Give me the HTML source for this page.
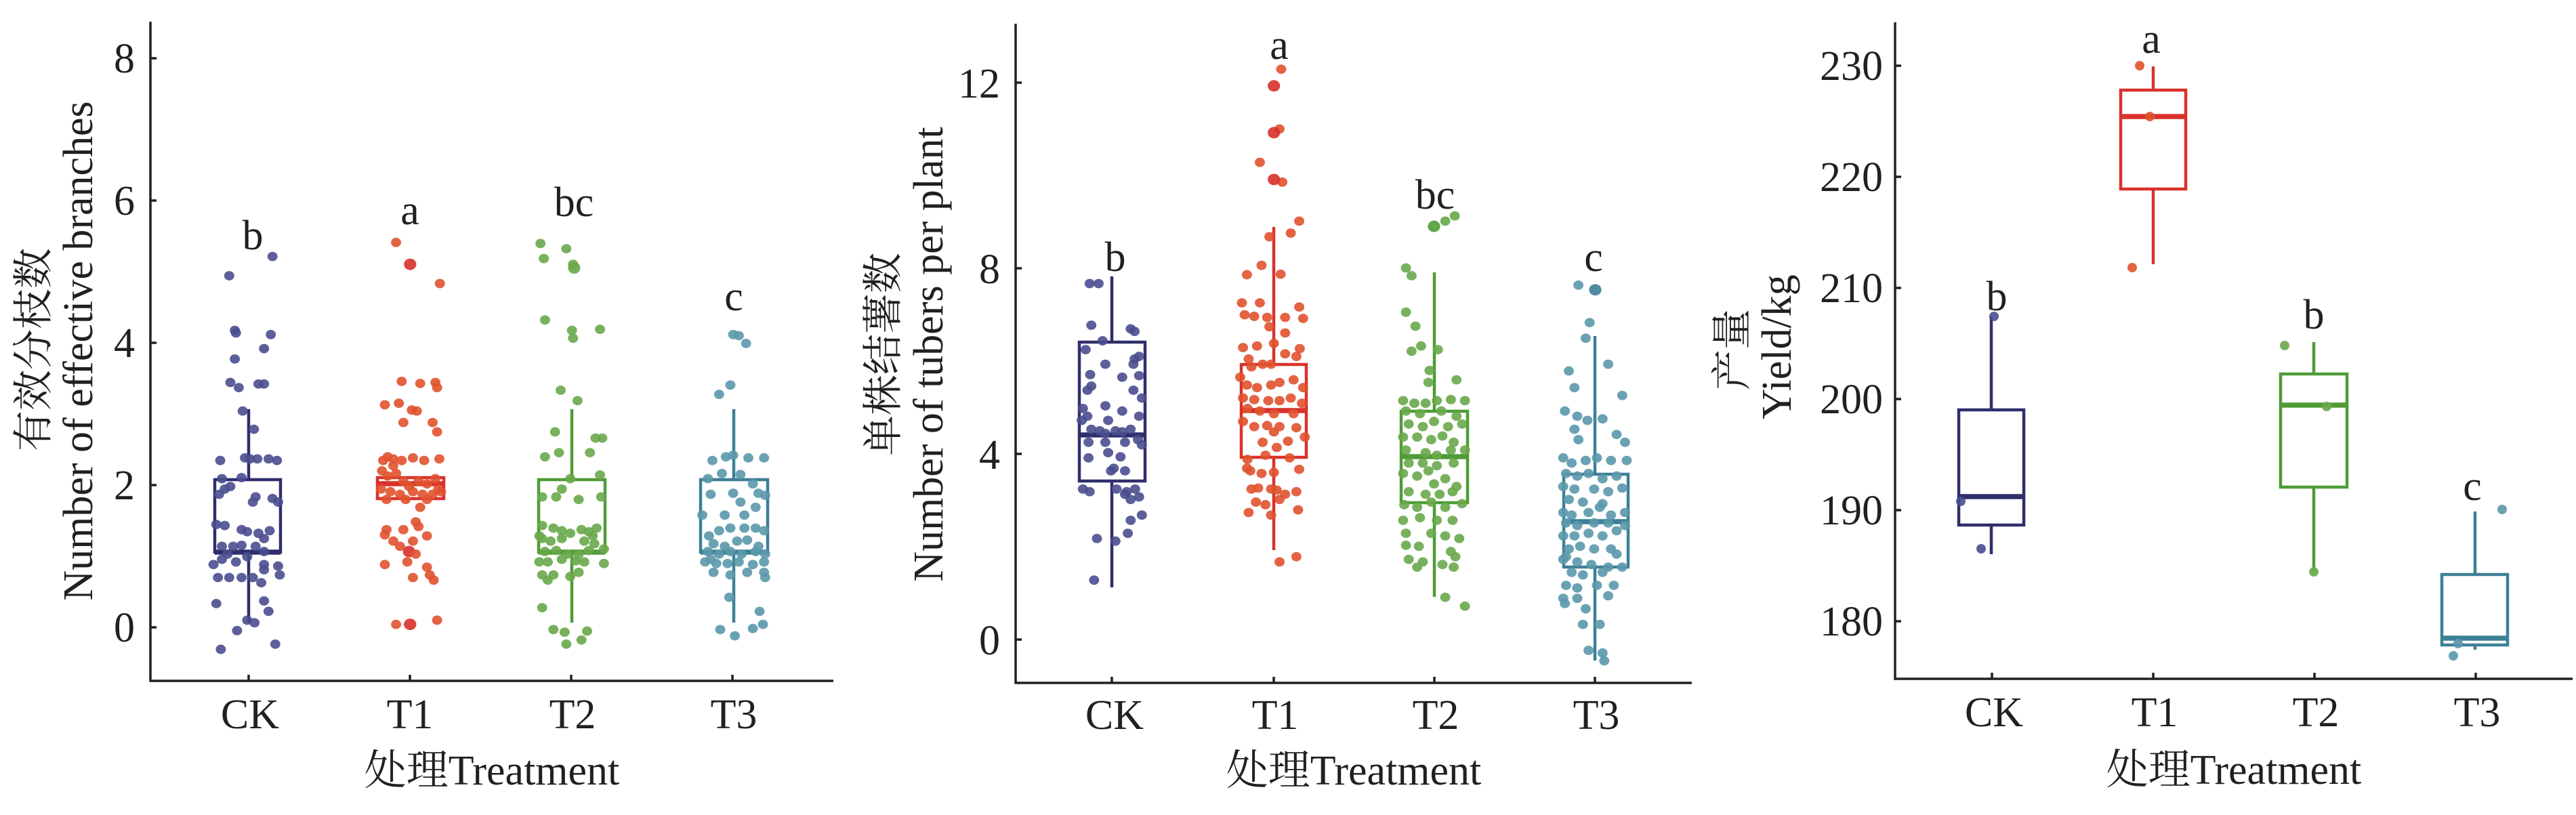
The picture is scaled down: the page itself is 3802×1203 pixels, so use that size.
<!DOCTYPE html>
<html><head><meta charset="utf-8"><style>
html,body{margin:0;padding:0;background:#fff;}
svg{display:block;}
text{font-family:"Liberation Serif","Noto Serif CJK SC",serif;fill:#231f20;}
.p circle{r:9px;}
.p circle[r="10"]{r:11px;}
.q circle{r:7px;}
</style></head><body>
<svg width="3802" height="1203" viewBox="0 0 3802 1203" xmlns="http://www.w3.org/2000/svg">
<rect width="3802" height="1203" fill="#fff"/>

<!-- ================= PANEL 1 ================= -->
<g stroke="#231f20" stroke-width="3.5" fill="none">
<path d="M222 32 V1005 H1230"/>
<path d="M222 86 h9 M222 296 h9 M222 506 h9 M222 716 h9 M222 926 h9"/>
<path d="M367 1005 v-9 M605 1005 v-9 M843 1005 v-9 M1081 1005 v-9"/>
</g>
<g font-size="62" text-anchor="end">
<text x="199" y="107">8</text><text x="199" y="317">6</text><text x="199" y="527">4</text><text x="199" y="737">2</text><text x="199" y="947">0</text>
</g>
<g font-size="62" text-anchor="middle">
<text x="369" y="1075">CK</text><text x="605" y="1075">T1</text><text x="845" y="1075">T2</text><text x="1083" y="1075">T3</text>
<text x="726" y="1158">处理Treatment</text>
<text transform="translate(70 516) rotate(-90)" font-size="60">有效分枝数</text>
<text transform="translate(136 518) rotate(-90)">Number of effective branches</text>
<text x="373" y="368">b</text><text x="605" y="331">a</text><text x="847" y="319">bc</text><text x="1083" y="458">c</text>
</g>
<g fill="none" stroke-width="4.5">
<g stroke="#2f2e6c"><path d="M367 604 V708 M367 815 V919"/><rect x="317" y="708" width="97" height="107"/><path d="M317 815 H414" stroke-width="7.5"/></g>
<g stroke="#d8322b"><rect x="557" y="705" width="98" height="31"/><path d="M557 714 H655" stroke-width="7.5"/></g>
<g stroke="#4f9c36"><path d="M844 604 V708 M844 815 V919"/><rect x="795" y="708" width="98" height="107"/><path d="M795 815 H893" stroke-width="7.5"/></g>
<g stroke="#3c8096"><path d="M1083 604 V708 M1083 815 V919"/><rect x="1034" y="708" width="99" height="107"/><path d="M1034 815 H1133" stroke-width="7.5"/></g>
</g>
<g class="p" transform="scale(0.8292 0.768)" fill-opacity="0.9">
<g fill="#4a4e8e">
<circle cx="485" cy="493" r="8"/><circle cx="408" cy="530" r="8"/><circle cx="418" cy="635" r="8"/><circle cx="420" cy="640" r="8"/><circle cx="482" cy="643" r="8"/><circle cx="470" cy="670" r="8"/><circle cx="418" cy="690" r="8"/><circle cx="410" cy="735" r="8"/><circle cx="425" cy="745" r="8"/><circle cx="460" cy="738" r="8"/><circle cx="470" cy="738" r="8"/><circle cx="432" cy="790" r="8"/><circle cx="452" cy="825" r="8"/><circle cx="392" cy="885" r="8"/><circle cx="436" cy="880" r="8"/><circle cx="445" cy="882" r="8"/><circle cx="458" cy="882" r="8"/><circle cx="478" cy="882" r="8"/><circle cx="493" cy="885" r="8"/><circle cx="430" cy="918" r="8"/><circle cx="400" cy="940" r="8"/><circle cx="390" cy="950" r="8"/><circle cx="410" cy="935" r="8"/><circle cx="455" cy="955" r="8"/><circle cx="485" cy="958" r="8"/><circle cx="450" cy="965" r="8"/><circle cx="385" cy="1008" r="8"/><circle cx="400" cy="1010" r="8"/><circle cx="430" cy="1018" r="8"/><circle cx="440" cy="1022" r="8"/><circle cx="460" cy="1025" r="8"/><circle cx="470" cy="1035" r="8"/><circle cx="395" cy="1050" r="8"/><circle cx="405" cy="1065" r="8"/><circle cx="430" cy="1048" r="8"/><circle cx="455" cy="1050" r="8"/><circle cx="470" cy="1060" r="8"/><circle cx="395" cy="1075" r="8"/><circle cx="420" cy="1080" r="8"/><circle cx="440" cy="1070" r="8"/><circle cx="470" cy="1085" r="8"/><circle cx="495" cy="1088" r="8"/><circle cx="388" cy="1110" r="8"/><circle cx="408" cy="1110" r="8"/><circle cx="430" cy="1110" r="8"/><circle cx="470" cy="1095" r="8"/><circle cx="498" cy="1105" r="8"/><circle cx="385" cy="1160" r="8"/><circle cx="470" cy="1155" r="8"/><circle cx="478" cy="1175" r="8"/><circle cx="440" cy="1192" r="8"/><circle cx="453" cy="1197" r="8"/><circle cx="422" cy="1212" r="8"/><circle cx="490" cy="1238" r="8"/><circle cx="393" cy="1248" r="8"/><circle cx="415" cy="1050" r="8"/><circle cx="480" cy="1020" r="8"/><circle cx="395" cy="920" r="8"/><circle cx="495" cy="965" r="8"/><circle cx="380" cy="1085" r="8"/><circle cx="450" cy="1110" r="8"/><circle cx="465" cy="1120" r="8"/>
</g>
<g fill="#e0522f">
<circle cx="705" cy="466" r="8"/><circle cx="730" cy="508" r="10" fill="#d8302a"/><circle cx="783" cy="545" r="8"/><circle cx="715" cy="733" r="8"/><circle cx="748" cy="737" r="8"/><circle cx="775" cy="735" r="8"/><circle cx="778" cy="745" r="8"/><circle cx="685" cy="778" r="8"/><circle cx="710" cy="775" r="8"/><circle cx="733" cy="788" r="8"/><circle cx="742" cy="790" r="8"/><circle cx="718" cy="812" r="8"/><circle cx="770" cy="812" r="8"/><circle cx="778" cy="830" r="8"/><circle cx="690" cy="878" r="8"/><circle cx="682" cy="885" r="8"/><circle cx="700" cy="882" r="8"/><circle cx="715" cy="885" r="8"/><circle cx="735" cy="880" r="8"/><circle cx="755" cy="885" r="8"/><circle cx="782" cy="882" r="8"/><circle cx="680" cy="905" r="8"/><circle cx="690" cy="915" r="8"/><circle cx="705" cy="910" r="8"/><circle cx="718" cy="925" r="8"/><circle cx="728" cy="935" r="8"/><circle cx="745" cy="925" r="8"/><circle cx="760" cy="930" r="8"/><circle cx="775" cy="920" r="8"/><circle cx="780" cy="940" r="8"/><circle cx="695" cy="945" r="8"/><circle cx="712" cy="950" r="8"/><circle cx="735" cy="945" r="8"/><circle cx="752" cy="950" r="8"/><circle cx="770" cy="950" r="8"/><circle cx="785" cy="945" r="8"/><circle cx="678" cy="940" r="8"/><circle cx="748" cy="975" r="8"/><circle cx="740" cy="1003" r="8"/><circle cx="688" cy="1018" r="8"/><circle cx="718" cy="1018" r="8"/><circle cx="745" cy="1012" r="8"/><circle cx="760" cy="1030" r="8"/><circle cx="700" cy="1040" r="8"/><circle cx="735" cy="1040" r="8"/><circle cx="728" cy="1060" r="10" fill="#d8302a"/><circle cx="740" cy="1065" r="8"/><circle cx="685" cy="1085" r="8"/><circle cx="725" cy="1080" r="8"/><circle cx="760" cy="1090" r="8"/><circle cx="765" cy="1105" r="8"/><circle cx="735" cy="1110" r="8"/><circle cx="772" cy="1115" r="8"/><circle cx="705" cy="1200" r="8"/><circle cx="730" cy="1200" r="10" fill="#d8302a"/><circle cx="778" cy="1192" r="8"/><circle cx="700" cy="895" r="8"/><circle cx="722" cy="960" r="8"/><circle cx="688" cy="960" r="8"/><circle cx="760" cy="960" r="8"/><circle cx="712" cy="1050" r="8"/><circle cx="685" cy="1028" r="8"/>
</g>
<g fill="#69a94b">
<circle cx="962" cy="468" r="8"/><circle cx="1008" cy="478" r="8"/><circle cx="968" cy="497" r="8"/><circle cx="1020" cy="508" r="8"/><circle cx="1022" cy="515" r="10"/><circle cx="970" cy="615" r="8"/><circle cx="1018" cy="635" r="8"/><circle cx="1068" cy="633" r="8"/><circle cx="1020" cy="650" r="8"/><circle cx="998" cy="750" r="8"/><circle cx="1028" cy="770" r="8"/><circle cx="988" cy="830" r="8"/><circle cx="1060" cy="842" r="8"/><circle cx="1072" cy="842" r="8"/><circle cx="970" cy="878" r="8"/><circle cx="995" cy="870" r="8"/><circle cx="1050" cy="870" r="8"/><circle cx="1068" cy="913" r="8"/><circle cx="1000" cy="940" r="8"/><circle cx="965" cy="955" r="8"/><circle cx="990" cy="955" r="8"/><circle cx="1015" cy="920" r="8"/><circle cx="1030" cy="960" r="8"/><circle cx="1070" cy="955" r="8"/><circle cx="965" cy="1010" r="8"/><circle cx="985" cy="1015" r="8"/><circle cx="1000" cy="1020" r="8"/><circle cx="1015" cy="1025" r="8"/><circle cx="1035" cy="1018" r="8"/><circle cx="1048" cy="1022" r="8"/><circle cx="1062" cy="1015" r="8"/><circle cx="965" cy="1035" r="8"/><circle cx="980" cy="1040" r="8"/><circle cx="1000" cy="1035" r="8"/><circle cx="1040" cy="1040" r="8"/><circle cx="1058" cy="1045" r="8"/><circle cx="970" cy="1060" r="8"/><circle cx="990" cy="1058" r="8"/><circle cx="1010" cy="1065" r="8"/><circle cx="1030" cy="1065" r="8"/><circle cx="1048" cy="1058" r="8"/><circle cx="1075" cy="1055" r="8"/><circle cx="960" cy="1080" r="8"/><circle cx="975" cy="1080" r="8"/><circle cx="1000" cy="1075" r="8"/><circle cx="1025" cy="1078" r="8"/><circle cx="1040" cy="1080" r="8"/><circle cx="1075" cy="1083" r="8"/><circle cx="965" cy="1105" r="8"/><circle cx="985" cy="1105" r="8"/><circle cx="1015" cy="1108" r="8"/><circle cx="1030" cy="1100" r="8"/><circle cx="975" cy="1115" r="8"/><circle cx="965" cy="1168" r="8"/><circle cx="985" cy="1210" r="8"/><circle cx="1005" cy="1215" r="8"/><circle cx="1045" cy="1213" r="8"/><circle cx="1035" cy="1230" r="8"/><circle cx="1008" cy="1238" r="8"/><circle cx="960" cy="1030" r="8"/><circle cx="1055" cy="1030" r="8"/>
</g>
<g fill="#5b98ab">
<circle cx="1305" cy="643" r="8"/><circle cx="1315" cy="645" r="8"/><circle cx="1328" cy="660" r="8"/><circle cx="1300" cy="740" r="8"/><circle cx="1280" cy="758" r="8"/><circle cx="1268" cy="885" r="8"/><circle cx="1292" cy="878" r="8"/><circle cx="1305" cy="875" r="8"/><circle cx="1332" cy="880" r="8"/><circle cx="1360" cy="880" r="8"/><circle cx="1260" cy="920" r="8"/><circle cx="1285" cy="910" r="8"/><circle cx="1318" cy="912" r="8"/><circle cx="1340" cy="930" r="8"/><circle cx="1265" cy="950" r="8"/><circle cx="1305" cy="948" r="8"/><circle cx="1350" cy="948" r="8"/><circle cx="1362" cy="952" r="8"/><circle cx="1318" cy="965" r="8"/><circle cx="1345" cy="975" r="8"/><circle cx="1262" cy="1030" r="8"/><circle cx="1280" cy="1020" r="8"/><circle cx="1300" cy="1015" r="8"/><circle cx="1325" cy="1015" r="8"/><circle cx="1345" cy="1015" r="8"/><circle cx="1360" cy="1020" r="8"/><circle cx="1270" cy="1045" r="8"/><circle cx="1290" cy="1050" r="8"/><circle cx="1312" cy="1040" r="8"/><circle cx="1330" cy="1038" r="8"/><circle cx="1350" cy="1050" r="8"/><circle cx="1260" cy="1060" r="8"/><circle cx="1280" cy="1065" r="8"/><circle cx="1300" cy="1060" r="8"/><circle cx="1320" cy="1065" r="8"/><circle cx="1345" cy="1060" r="8"/><circle cx="1362" cy="1065" r="8"/><circle cx="1255" cy="1080" r="8"/><circle cx="1275" cy="1083" r="8"/><circle cx="1295" cy="1083" r="8"/><circle cx="1315" cy="1080" r="8"/><circle cx="1340" cy="1085" r="8"/><circle cx="1360" cy="1080" r="8"/><circle cx="1270" cy="1100" r="8"/><circle cx="1300" cy="1105" r="8"/><circle cx="1330" cy="1100" r="8"/><circle cx="1360" cy="1100" r="8"/><circle cx="1265" cy="1075" r="8"/><circle cx="1362" cy="1110" r="8"/><circle cx="1298" cy="1148" r="8"/><circle cx="1352" cy="1175" r="8"/><circle cx="1282" cy="1210" r="8"/><circle cx="1308" cy="1222" r="8"/><circle cx="1340" cy="1208" r="8"/><circle cx="1358" cy="1200" r="8"/><circle cx="1250" cy="990" r="8"/><circle cx="1290" cy="990" r="8"/><circle cx="1325" cy="990" r="8"/>
</g>
</g>

<!-- ================= PANEL 2 ================= -->
<g stroke="#231f20" stroke-width="3.5" fill="none">
<path d="M1499 35 V1008 H2497"/>
<path d="M1499 122 h9 M1499 396 h9 M1499 670 h9 M1499 944 h9"/>
<path d="M1641 1008 v-9 M1880 1008 v-9 M2117 1008 v-9 M2354 1008 v-9"/>
</g>
<g font-size="62" text-anchor="end">
<text x="1476" y="144">12</text><text x="1476" y="418">8</text><text x="1476" y="692">4</text><text x="1476" y="966">0</text>
</g>
<g font-size="62" text-anchor="middle">
<text x="1645" y="1076">CK</text><text x="1882" y="1076">T1</text><text x="2119" y="1076">T2</text><text x="2356" y="1076">T3</text>
<text x="1998" y="1158">处理Treatment</text>
<text transform="translate(1324 523) rotate(-90)" font-size="60">单株结薯数</text>
<text transform="translate(1391 523) rotate(-90)">Number of tubers per plant</text>
<text x="1646" y="400">b</text><text x="1888" y="87">a</text><text x="2118" y="308">bc</text><text x="2352" y="400">c</text>
</g>
<g fill="none" stroke-width="4.5">
<g stroke="#2f2e6c"><path d="M1641 408 V505 M1641 710 V867"/><rect x="1593" y="505" width="97" height="205"/><path d="M1593 642 H1690" stroke-width="7.5"/></g>
<g stroke="#d8322b"><path d="M1880 335 V538 M1880 675 V812"/><rect x="1832" y="538" width="96" height="137"/><path d="M1832 606 H1928" stroke-width="7.5"/></g>
<g stroke="#4f9c36"><path d="M2117 402 V607 M2117 742 V881"/><rect x="2068" y="607" width="98" height="135"/><path d="M2068 674 H2166" stroke-width="7.5"/></g>
<g stroke="#3c8096"><path d="M2354 496 V700 M2354 837 V975"/><rect x="2308" y="700" width="95" height="137"/><path d="M2308 770 H2403" stroke-width="7.5"/></g>
</g>
<g class="p" transform="translate(1250 0) scale(0.8292 0.768)" fill-opacity="0.9">
<g fill="#4a4e8e">
<circle cx="432" cy="545" r="8"/><circle cx="448" cy="545" r="8"/><circle cx="435" cy="625" r="8"/><circle cx="505" cy="632" r="8"/><circle cx="512" cy="637" r="8"/><circle cx="455" cy="655" r="8"/><circle cx="425" cy="672" r="8"/><circle cx="520" cy="685" r="8"/><circle cx="512" cy="690" r="8"/><circle cx="510" cy="700" r="8"/><circle cx="460" cy="700" r="8"/><circle cx="433" cy="720" r="8"/><circle cx="435" cy="742" r="8"/><circle cx="428" cy="750" r="8"/><circle cx="490" cy="725" r="8"/><circle cx="520" cy="722" r="8"/><circle cx="510" cy="750" r="8"/><circle cx="525" cy="765" r="8"/><circle cx="420" cy="785" r="8"/><circle cx="460" cy="780" r="8"/><circle cx="490" cy="790" r="8"/><circle cx="428" cy="800" r="8"/><circle cx="465" cy="808" r="8"/><circle cx="520" cy="800" r="8"/><circle cx="435" cy="825" r="8"/><circle cx="450" cy="828" r="8"/><circle cx="460" cy="833" r="8"/><circle cx="478" cy="828" r="8"/><circle cx="490" cy="830" r="8"/><circle cx="505" cy="825" r="8"/><circle cx="430" cy="850" r="8"/><circle cx="460" cy="850" r="8"/><circle cx="495" cy="850" r="8"/><circle cx="518" cy="845" r="8"/><circle cx="465" cy="870" r="8"/><circle cx="487" cy="878" r="8"/><circle cx="430" cy="880" r="8"/><circle cx="475" cy="900" r="8"/><circle cx="495" cy="905" r="8"/><circle cx="470" cy="905" r="8"/><circle cx="420" cy="940" r="8"/><circle cx="432" cy="945" r="8"/><circle cx="480" cy="940" r="8"/><circle cx="498" cy="945" r="8"/><circle cx="513" cy="940" r="8"/><circle cx="520" cy="955" r="8"/><circle cx="495" cy="950" r="8"/><circle cx="505" cy="960" r="8"/><circle cx="525" cy="990" r="8"/><circle cx="505" cy="1000" r="8"/><circle cx="500" cy="1025" r="8"/><circle cx="445" cy="1035" r="8"/><circle cx="478" cy="1040" r="8"/><circle cx="440" cy="1115" r="8"/><circle cx="525" cy="855" r="8"/><circle cx="418" cy="808" r="8"/>
</g>
<g fill="#e0522f">
<circle cx="773" cy="133" r="8"/><circle cx="760" cy="165" r="10" fill="#d8302a"/><circle cx="770" cy="248" r="8"/><circle cx="760" cy="255" r="10" fill="#d8302a"/><circle cx="735" cy="312" r="8"/><circle cx="775" cy="350" r="8"/><circle cx="760" cy="345" r="10" fill="#d8302a"/><circle cx="805" cy="425" r="8"/><circle cx="790" cy="448" r="8"/><circle cx="752" cy="455" r="8"/><circle cx="738" cy="510" r="8"/><circle cx="712" cy="528" r="8"/><circle cx="772" cy="527" r="8"/><circle cx="703" cy="582" r="8"/><circle cx="735" cy="582" r="8"/><circle cx="805" cy="590" r="8"/><circle cx="812" cy="612" r="8"/><circle cx="708" cy="605" r="8"/><circle cx="725" cy="608" r="8"/><circle cx="748" cy="610" r="8"/><circle cx="780" cy="610" r="8"/><circle cx="752" cy="628" r="8"/><circle cx="780" cy="640" r="8"/><circle cx="705" cy="668" r="8"/><circle cx="730" cy="665" r="8"/><circle cx="760" cy="660" r="8"/><circle cx="780" cy="680" r="8"/><circle cx="800" cy="685" r="8"/><circle cx="806" cy="670" r="8"/><circle cx="715" cy="690" r="8"/><circle cx="740" cy="700" r="8"/><circle cx="720" cy="705" r="8"/><circle cx="755" cy="700" r="8"/><circle cx="700" cy="725" r="8"/><circle cx="712" cy="740" r="8"/><circle cx="730" cy="745" r="8"/><circle cx="755" cy="740" r="8"/><circle cx="770" cy="735" r="8"/><circle cx="795" cy="730" r="8"/><circle cx="812" cy="745" r="8"/><circle cx="705" cy="765" r="8"/><circle cx="725" cy="768" r="8"/><circle cx="750" cy="770" r="8"/><circle cx="770" cy="770" r="8"/><circle cx="790" cy="765" r="8"/><circle cx="810" cy="775" r="8"/><circle cx="713" cy="785" r="8"/><circle cx="735" cy="790" r="8"/><circle cx="760" cy="795" r="8"/><circle cx="795" cy="795" r="8"/><circle cx="705" cy="810" r="8"/><circle cx="725" cy="820" r="8"/><circle cx="748" cy="818" r="8"/><circle cx="770" cy="820" r="8"/><circle cx="800" cy="822" r="8"/><circle cx="760" cy="830" r="8"/><circle cx="815" cy="840" r="8"/><circle cx="740" cy="850" r="8"/><circle cx="765" cy="860" r="8"/><circle cx="785" cy="848" r="8"/><circle cx="712" cy="900" r="8"/><circle cx="718" cy="905" r="8"/><circle cx="738" cy="910" r="8"/><circle cx="760" cy="908" r="8"/><circle cx="805" cy="902" r="8"/><circle cx="720" cy="940" r="8"/><circle cx="732" cy="938" r="8"/><circle cx="755" cy="940" r="8"/><circle cx="765" cy="942" r="8"/><circle cx="800" cy="945" r="8"/><circle cx="780" cy="950" r="8"/><circle cx="728" cy="965" r="8"/><circle cx="745" cy="970" r="8"/><circle cx="770" cy="960" r="8"/><circle cx="803" cy="980" r="8"/><circle cx="715" cy="985" r="8"/><circle cx="755" cy="990" r="8"/><circle cx="800" cy="1070" r="8"/><circle cx="770" cy="1080" r="8"/><circle cx="713" cy="883" r="8"/><circle cx="788" cy="880" r="8"/><circle cx="745" cy="875" r="8"/>
</g>
<g fill="#69a94b">
<circle cx="995" cy="515" r="8"/><circle cx="1005" cy="530" r="8"/><circle cx="1045" cy="435" r="10" fill="#4f9c36"/><circle cx="1065" cy="425" r="8"/><circle cx="1082" cy="415" r="8"/><circle cx="995" cy="600" r="8"/><circle cx="1012" cy="627" r="8"/><circle cx="1022" cy="665" r="8"/><circle cx="1005" cy="675" r="8"/><circle cx="1052" cy="672" r="8"/><circle cx="1037" cy="712" r="8"/><circle cx="1035" cy="735" r="8"/><circle cx="1085" cy="730" r="8"/><circle cx="990" cy="770" r="8"/><circle cx="1010" cy="775" r="8"/><circle cx="1030" cy="775" r="8"/><circle cx="1050" cy="770" r="8"/><circle cx="1075" cy="768" r="8"/><circle cx="1100" cy="770" r="8"/><circle cx="995" cy="790" r="8"/><circle cx="1020" cy="795" r="8"/><circle cx="1058" cy="790" r="8"/><circle cx="1085" cy="800" r="8"/><circle cx="1000" cy="815" r="8"/><circle cx="1025" cy="820" r="8"/><circle cx="1045" cy="810" r="8"/><circle cx="1070" cy="820" r="8"/><circle cx="1095" cy="815" r="8"/><circle cx="990" cy="840" r="8"/><circle cx="1015" cy="840" r="8"/><circle cx="1040" cy="845" r="8"/><circle cx="1060" cy="838" r="8"/><circle cx="1080" cy="850" r="8"/><circle cx="995" cy="865" r="8"/><circle cx="1030" cy="870" r="8"/><circle cx="1050" cy="875" r="8"/><circle cx="1075" cy="865" r="8"/><circle cx="1100" cy="865" r="8"/><circle cx="1000" cy="890" r="8"/><circle cx="1025" cy="890" r="8"/><circle cx="1050" cy="895" r="8"/><circle cx="1080" cy="890" r="8"/><circle cx="990" cy="910" r="8"/><circle cx="1015" cy="915" r="8"/><circle cx="1035" cy="905" r="8"/><circle cx="1065" cy="920" r="8"/><circle cx="1085" cy="935" r="8"/><circle cx="1000" cy="945" r="8"/><circle cx="1030" cy="950" r="8"/><circle cx="1055" cy="950" r="8"/><circle cx="1078" cy="945" r="8"/><circle cx="992" cy="970" r="8"/><circle cx="1015" cy="975" r="8"/><circle cx="1040" cy="965" r="8"/><circle cx="1065" cy="975" r="8"/><circle cx="1095" cy="968" r="8"/><circle cx="990" cy="1000" r="8"/><circle cx="1020" cy="995" r="8"/><circle cx="1050" cy="1000" r="8"/><circle cx="1078" cy="1000" r="8"/><circle cx="995" cy="1025" r="8"/><circle cx="1040" cy="1025" r="8"/><circle cx="1065" cy="1030" r="8"/><circle cx="1090" cy="1035" r="8"/><circle cx="995" cy="1048" r="8"/><circle cx="1018" cy="1050" r="8"/><circle cx="1075" cy="1060" r="8"/><circle cx="1083" cy="1070" r="8"/><circle cx="1000" cy="1075" r="8"/><circle cx="1025" cy="1080" r="8"/><circle cx="1060" cy="1085" r="8"/><circle cx="1080" cy="1090" r="8"/><circle cx="1015" cy="1090" r="8"/><circle cx="1065" cy="1148" r="8"/><circle cx="1100" cy="1165" r="8"/><circle cx="1045" cy="930" r="8"/>
</g>
<g fill="#5b98ab">
<circle cx="1302" cy="548" r="8"/><circle cx="1332" cy="557" r="10" fill="#3c8096"/><circle cx="1322" cy="620" r="8"/><circle cx="1315" cy="650" r="8"/><circle cx="1285" cy="713" r="8"/><circle cx="1295" cy="745" r="8"/><circle cx="1355" cy="700" r="8"/><circle cx="1380" cy="760" r="8"/><circle cx="1278" cy="790" r="8"/><circle cx="1300" cy="800" r="8"/><circle cx="1318" cy="808" r="8"/><circle cx="1345" cy="805" r="8"/><circle cx="1295" cy="825" r="8"/><circle cx="1370" cy="835" r="8"/><circle cx="1385" cy="850" r="8"/><circle cx="1302" cy="845" r="8"/><circle cx="1275" cy="880" r="8"/><circle cx="1290" cy="890" r="8"/><circle cx="1315" cy="885" r="8"/><circle cx="1335" cy="880" r="8"/><circle cx="1360" cy="885" r="8"/><circle cx="1388" cy="885" r="8"/><circle cx="1280" cy="910" r="8"/><circle cx="1300" cy="915" r="8"/><circle cx="1320" cy="910" r="8"/><circle cx="1345" cy="920" r="8"/><circle cx="1370" cy="915" r="8"/><circle cx="1275" cy="935" r="8"/><circle cx="1295" cy="940" r="8"/><circle cx="1330" cy="940" r="8"/><circle cx="1355" cy="945" r="8"/><circle cx="1380" cy="938" r="8"/><circle cx="1285" cy="960" r="8"/><circle cx="1310" cy="965" r="8"/><circle cx="1345" cy="968" r="8"/><circle cx="1275" cy="985" r="8"/><circle cx="1290" cy="990" r="8"/><circle cx="1320" cy="985" r="8"/><circle cx="1340" cy="975" r="8"/><circle cx="1360" cy="990" r="8"/><circle cx="1385" cy="985" r="8"/><circle cx="1280" cy="1005" r="8"/><circle cx="1300" cy="1010" r="8"/><circle cx="1330" cy="1005" r="8"/><circle cx="1355" cy="1005" r="8"/><circle cx="1385" cy="1010" r="8"/><circle cx="1275" cy="1030" r="8"/><circle cx="1295" cy="1030" r="8"/><circle cx="1320" cy="1025" r="8"/><circle cx="1345" cy="1030" r="8"/><circle cx="1370" cy="1020" r="8"/><circle cx="1285" cy="1055" r="8"/><circle cx="1305" cy="1050" r="8"/><circle cx="1330" cy="1055" r="8"/><circle cx="1360" cy="1055" r="8"/><circle cx="1275" cy="1075" r="8"/><circle cx="1300" cy="1080" r="8"/><circle cx="1325" cy="1085" r="8"/><circle cx="1355" cy="1090" r="8"/><circle cx="1380" cy="1090" r="8"/><circle cx="1290" cy="1100" r="8"/><circle cx="1310" cy="1105" r="8"/><circle cx="1345" cy="1100" r="8"/><circle cx="1280" cy="1125" r="8"/><circle cx="1300" cy="1130" r="8"/><circle cx="1335" cy="1125" r="8"/><circle cx="1365" cy="1125" r="8"/><circle cx="1275" cy="1150" r="8"/><circle cx="1300" cy="1150" r="8"/><circle cx="1355" cy="1145" r="8"/><circle cx="1278" cy="1160" r="8"/><circle cx="1315" cy="1170" r="8"/><circle cx="1310" cy="1200" r="8"/><circle cx="1340" cy="1200" r="8"/><circle cx="1320" cy="1250" r="8"/><circle cx="1345" cy="1255" r="8"/><circle cx="1348" cy="1270" r="8"/><circle cx="1280" cy="1070" r="8"/><circle cx="1370" cy="1065" r="8"/>
</g>
</g>

<!-- ================= PANEL 3 ================= -->
<g stroke="#231f20" stroke-width="3.5" fill="none">
<path d="M2797 33 V1002 H3797"/>
<path d="M2797 97 h9 M2797 261 h9 M2797 425 h9 M2797 589 h9 M2797 753 h9 M2797 917 h9"/>
<path d="M2940 1002 v-9 M3178 1002 v-9 M3416 1002 v-9 M3654 1002 v-9"/>
</g>
<g font-size="62" text-anchor="end">
<text x="2779" y="118">230</text><text x="2779" y="282">220</text><text x="2779" y="446">210</text><text x="2779" y="610">200</text><text x="2779" y="774">190</text><text x="2779" y="938">180</text>
</g>
<g font-size="62" text-anchor="middle">
<text x="2943" y="1072">CK</text><text x="3180" y="1072">T1</text><text x="3418" y="1072">T2</text><text x="3656" y="1072">T3</text>
<text x="3297" y="1157">处理Treatment</text>
<text transform="translate(2577 516) rotate(-90)" font-size="60">产量</text>
<text transform="translate(2643 512) rotate(-90)">Yield/kg</text>
<text x="2947" y="458">b</text><text x="3175" y="78">a</text><text x="3415" y="485">b</text><text x="3649" y="738">c</text>
</g>
<g fill="none" stroke-width="4.5">
<g stroke="#2f2e6c"><path d="M2939 467 V605 M2939 775 V818"/><rect x="2891" y="605" width="96" height="170"/><path d="M2891 733 H2987" stroke-width="7.5"/></g>
<g stroke="#d8322b"><path d="M3178 98 V133 M3178 279 V390"/><rect x="3130" y="133" width="96" height="146"/><path d="M3130 172 H3226" stroke-width="7.5"/></g>
<g stroke="#4f9c36"><path d="M3415 505 V552 M3415 719 V844"/><rect x="3366" y="552" width="98" height="167"/><path d="M3366 598 H3464" stroke-width="7.5"/></g>
<g stroke="#3c8096"><path d="M3653 755 V848 M3653 952 V959"/><rect x="3604" y="848" width="97" height="104"/><path d="M3604 942 H3701" stroke-width="7.5"/></g>
</g>
<g class="q" fill-opacity="0.9">
<g fill="#4a4e8e"><circle cx="2943" cy="467" r="6.5"/><circle cx="2894" cy="740" r="6.5"/><circle cx="2924" cy="810" r="6.5"/></g>
<g fill="#e0522f"><circle cx="3158" cy="97" r="6.5"/><circle cx="3173" cy="172" r="6.5"/><circle cx="3147" cy="395" r="6.5"/></g>
<g fill="#69a94b"><circle cx="3372" cy="510" r="6.5"/><circle cx="3434" cy="600" r="6.5"/><circle cx="3415" cy="844" r="6.5"/></g>
<g fill="#5b98ab"><circle cx="3693" cy="752" r="6.5"/><circle cx="3628" cy="950" r="6.5"/><circle cx="3621" cy="968" r="6.5"/></g>
</g>
</svg>
</body></html>
